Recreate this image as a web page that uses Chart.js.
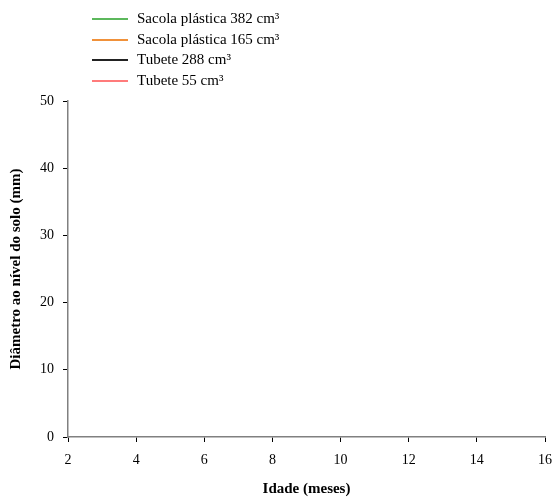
<!DOCTYPE html>
<html>
<head>
<meta charset="utf-8">
<script src="https://cdn.jsdelivr.net/npm/chart.js@4"></script>
<style>
  html, body { margin: 0; padding: 0; background: #fff; }
  #wrap { width: 554px; height: 497px; }
</style>
</head>
<body>
<div id="wrap"><canvas id="myChart" width="554" height="497"></canvas></div>
<script>
// ----- data (the reference plot shows no drawn series) -----
const seriesNames = ['Sacola plástica 382 cm³', 'Sacola plástica 165 cm³', 'Tubete 288 cm³', 'Tubete 55 cm³'];
const seriesColors = ['#5cb85c', '#f0913a', '#222222', '#ff7b7b'];
const sacola382 = [];
const sacola165 = [];
const tubete288 = [];
const tubete55 = [];
const xTicks = [2, 4, 6, 8, 10, 12, 14, 16];
const yTicks = [0, 10, 20, 30, 40, 50];

const serif = "'Liberation Serif', 'Times New Roman', serif";

// legend drawn as a vertical list in the top-left, like the original
const sideLegend = {
    id: 'sideLegend',
    afterDraw(chart) {
        const c = chart.ctx;
        c.save();
        c.font = '15px ' + serif;
        c.textBaseline = 'middle';
        chart.data.datasets.forEach((ds, i) => {
            const y = Math.round(19 + i * 20.6);
            c.strokeStyle = ds.borderColor;
            c.lineWidth = 2;
            c.beginPath();
            c.moveTo(92, y);
            c.lineTo(128, y);
            c.stroke();
            c.fillStyle = '#000';
            c.fillText(ds.label, 137, y);
        });
        c.restore();
    }
};

const seriesData = [sacola382, sacola165, tubete288, tubete55];
const data = {
    datasets: seriesNames.map((name, i) => ({
        label: name,
        data: seriesData[i],
        borderColor: seriesColors[i],
        backgroundColor: seriesColors[i],
        borderWidth: 1.5,
        pointRadius: 0,
        fill: false,
    })),
};

const ctx = document.getElementById('myChart').getContext('2d');
const config = {
    type: 'line',
    data: data,
    options: {
        responsive: false,
        animation: false,
        layout: { padding: { top: 101, right: 9, left: 0, bottom: 0 } },
        plugins: {
            legend: { display: false },
            tooltip: { enabled: false },
        },
        scales: {
            x: {
                type: 'linear',
                min: xTicks[0],
                max: xTicks[xTicks.length - 1],
                afterBuildTicks: axis => { axis.ticks = xTicks.map(v => ({ value: v })); },
                afterFit: axis => {
                    axis.height = 60;
                    // the "16" label may hang past the axis end, as in the original
                    axis.paddingRight = 0;
                    axis.paddingLeft = 0;
                },
                border: { color: '#808080', width: 1.5 },
                grid: { drawOnChartArea: false, tickLength: 5, tickColor: '#000' },
                ticks: { color: '#000', font: { family: serif, size: 14 }, padding: 10, maxRotation: 0 },
                title: {
                    display: true,
                    text: 'Idade (meses)',
                    color: '#000',
                    font: { family: serif, size: 15, weight: 'bold', lineHeight: 1 },
                    padding: { top: 0, bottom: 0 },
                },
            },
            y: {
                min: yTicks[0],
                max: yTicks[yTicks.length - 1],
                afterBuildTicks: axis => { axis.ticks = yTicks.map(v => ({ value: v })); },
                afterFit: axis => { axis.width = 68; },
                border: { color: '#808080', width: 1.5 },
                grid: { drawOnChartArea: false, tickLength: 5, tickColor: '#000' },
                ticks: { color: '#000', font: { family: serif, size: 14 }, padding: 9 },
                title: {
                    display: true,
                    text: 'Diâmetro ao nível do solo (mm)',
                    color: '#000',
                    font: { family: serif, size: 15, weight: 'bold' },
                    padding: { top: 7, bottom: 0 },
                },
            },
        },
    },
    plugins: [sideLegend],
};

const sensorsChart = new Chart(ctx, config);
</script>
</body>
</html>
